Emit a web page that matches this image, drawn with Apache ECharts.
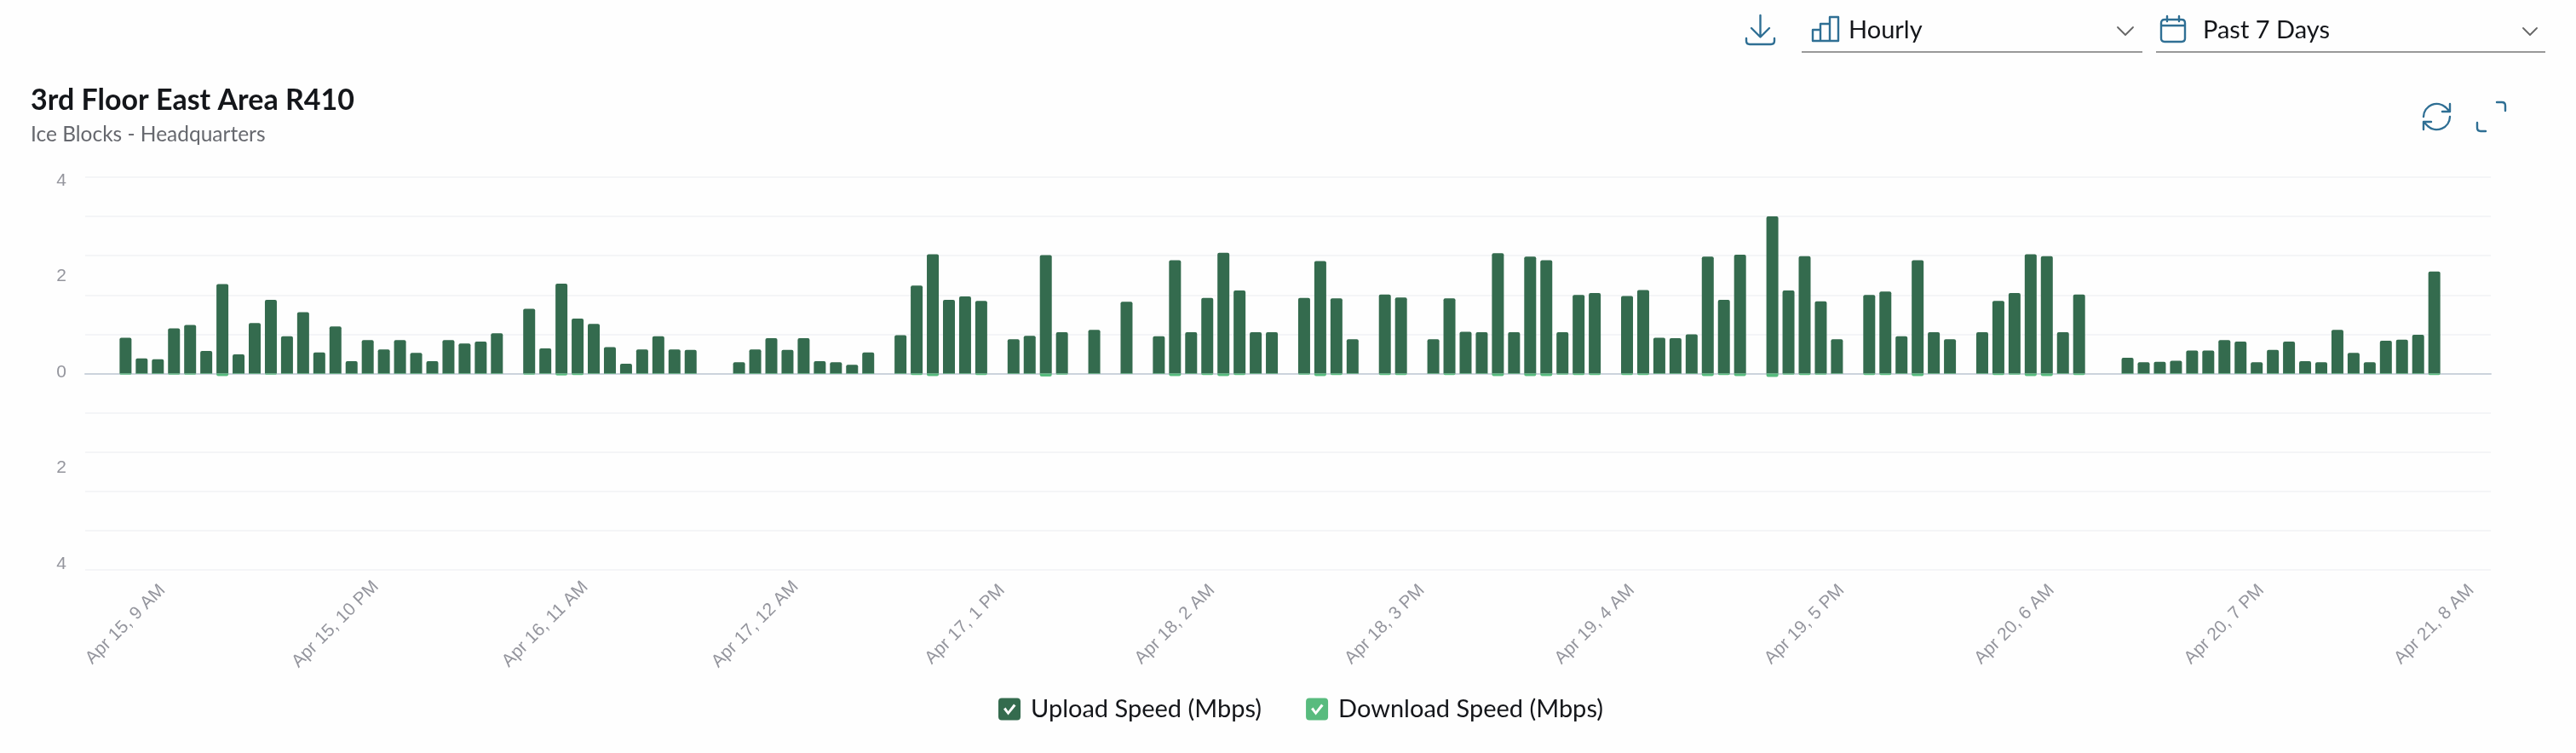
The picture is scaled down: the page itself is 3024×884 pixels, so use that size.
<!DOCTYPE html>
<html>
<head>
<meta charset="utf-8">
<title>3rd Floor East Area R410</title>
<script src="https://cdn.jsdelivr.net/npm/echarts@6/dist/echarts.min.js"></script>
<style>
html,body{margin:0;padding:0;background:#fefefe;width:3024px;height:884px;overflow:hidden}
#chart{position:absolute;left:0;top:0;width:3024px;height:884px}
.ctl{position:absolute;font-family:Lato,"Noto Sans",sans-serif;font-size:29px;line-height:34px;color:#14161a}
.rule{position:absolute;height:2px;background:#999;top:60px}
svg{position:absolute;overflow:visible;fill:none;stroke:#2f6f94;stroke-width:2.4;stroke-linecap:round;stroke-linejoin:round}
svg.chev{stroke:#666;stroke-width:1.8}
</style>
</head>
<body>
<div id="chart"></div>
<svg style="left:2049px;top:17px" width="35" height="36" viewBox="0 0 35 36"><path d="M17.5 1V26M7 16L17.5 26.5L28 16M1 28V31Q1 35 5 35H30Q34 35 34 31V28"/></svg>
<svg style="left:2127px;top:19px" width="32" height="30" viewBox="0 0 32 30"><path d="M1 29V16H10V29ZM10 29V9H21V29ZM21 29V1H31V29ZM1 29H31"/></svg>
<div class="ctl" style="left:2170px;top:17px">Hourly</div>
<svg class="chev" style="left:2485px;top:31px" width="20" height="11" viewBox="0 0 20 11"><path d="M1 1L10 10L19 1"/></svg>
<div class="rule" style="left:2115px;width:400px"></div>
<svg style="left:2536px;top:18px" width="30" height="32" viewBox="0 0 30 32"><path d="M5 5H25Q29 5 29 9V27Q29 31 25 31H5Q1 31 1 27V9Q1 5 5 5ZM1 12H29M8 1V7M22 1V7"/></svg>
<div class="ctl" style="left:2586px;top:17px">Past 7 Days</div>
<svg class="chev" style="left:2961px;top:32px" width="18" height="10" viewBox="0 0 18 10"><path d="M1 1L9 9L17 1"/></svg>
<div class="rule" style="left:2531px;width:457px"></div>
<svg style="left:2843px;top:119px" width="35" height="36" viewBox="0 0 35 36"><path d="M2 18A15.5 15.5 0 0 1 28 7L33 12M33 18A15.5 15.5 0 0 1 7 29L2 24M33 3V12H24M2 33V24H11" /></svg>
<svg style="left:2907px;top:119px" width="35" height="36" viewBox="0 0 35 36"><path d="M24 1H30Q34 1 34 5V11M1 25V31Q1 35 5 35H11"/></svg>
<script>
const uploadSpeed = [
 .73,.31,.29,.92,.99,.46,1.82,.39,1.03,1.50,.76,1.25,.43,.96,.25,.68,.49,.68,.42,.25,.68,.61,.65,.82,
 null,1.32,.51,1.83,1.12,1.01,.54,.20,.49,.76,.49,.48,
 null,null,.23,.49,.72,.48,.72,.25,.23,.18,.43,
 null,.78,1.79,2.43,1.50,1.57,1.48,
 null,.70,.77,2.41,.84,
 null,.89,
 null,1.46,
 null,.76,2.31,.84,1.54,2.46,1.69,.84,.84,
 null,1.54,2.29,1.53,.70,
 null,1.61,1.55,
 null,.70,1.53,.85,.84,2.45,.84,2.38,2.31,.84,1.60,1.64,
 null,1.58,1.70,.73,.72,.80,2.38,1.50,2.42,
 null,3.20,1.69,2.39,1.47,.70,
 null,1.60,1.67,.76,2.31,.84,.70,
 null,.84,1.48,1.64,2.43,2.39,.84,1.61,
 null,null,.32,.23,.24,.26,.47,.47,.68,.65,.23,.48,.65,.25,.23,.89,.42,.23,.67,.69,.79,2.08
];
const downloadSpeed = [
 .02,.01,.01,.02,.02,.01,.05,.01,.01,.02,.01,.01,.01,.01,.01,.01,.01,.01,.01,.01,.01,.01,.01,.01,
 null,.02,.01,.04,.03,.01,.01,.01,.01,.01,.01,.01,
 null,null,.01,.01,.01,.01,.01,.01,.01,.01,.01,
 null,.01,.03,.05,.01,.01,.03,
 null,.01,.01,.06,.02,
 null,.01,
 null,.01,
 null,.01,.05,.01,.03,.05,.03,.01,.01,
 null,.02,.05,.03,.01,
 null,.03,.03,
 null,.01,.03,.01,.01,.05,.01,.05,.05,.02,.03,.03,
 null,.03,.03,.01,.01,.01,.05,.03,.05,
 null,.07,.02,.03,.02,.01,
 null,.03,.03,.01,.05,.01,.01,
 null,.01,.03,.02,.05,.05,.01,.03,
 null,null,.01,.01,.01,.01,.01,.01,.01,.01,.01,.01,.01,.01,.01,.01,.01,.01,.01,.01,.01,.03
];
const monthName = 'Apr';
const firstDay = 15, firstHour = 9, labelEvery = 13;
const leadingBlanks = 2, trailingBlanks = 3;
const yLabelValues = [-4,-2,0,2,4];
function hourLabel(i){
  const total = firstHour + i;
  const day = firstDay + Math.floor(total/24);
  const h = total % 24;
  const h12 = h % 12 === 0 ? 12 : h % 12;
  return monthName + ' ' + day + ', ' + h12 + ' ' + (h < 12 ? 'AM' : 'PM');
}
const categories = [
  ...Array(leadingBlanks).fill(''),
  ...uploadSpeed.map((_, i) => hourLabel(i)),
  ...Array(trailingBlanks).fill('')
];
const pad = a => [...Array(leadingBlanks).fill(null), ...a, ...Array(trailingBlanks).fill(null)];
const checkIcon = 'path://M4 0H22A4 4 0 0 1 26 4V22A4 4 0 0 1 22 26H4A4 4 0 0 1 0 22V4A4 4 0 0 1 4 0ZM11.5 20L20.5 9L18 7L11.5 15.5L8.5 11L6 13Z';
const chart = echarts.init(document.getElementById('chart'), null, {renderer:'canvas'});
chart.setOption({
  animation:false,
  backgroundColor:'transparent',
  title:{left:31,top:96,text:'3rd Floor East Area R410',subtext:'Ice Blocks - Headquarters',itemGap:11,
    textStyle:{fontFamily:'Lato',fontWeight:700,fontSize:34,color:'#14161a'},
    subtextStyle:{fontFamily:'Lato',fontSize:24.5,color:'#66686e'}},
  legend:{left:1167,top:813,itemWidth:26,itemHeight:26,itemGap:52,selectedMode:false,
    textStyle:{fontFamily:'Lato',fontSize:29,color:'#14161a',padding:[0,0,0,7]},
    data:[{name:'Upload Speed (Mbps)',icon:checkIcon},{name:'Download Speed (Mbps)',icon:checkIcon}]},
  grid:[
    {left:100,width:2824,top:208,height:461},
    {left:100,width:2824,top:212,height:450}
  ],
  xAxis:[
    {type:'category',gridIndex:0,data:categories,position:'bottom',
      axisLine:{show:false,onZero:false},axisTick:{show:false},
      axisLabel:{rotate:45,margin:64,align:'center',verticalAlign:'middle',
        fontFamily:'Liberation Sans',fontSize:21,color:'#94959d',
        interval:(i)=>i>=leadingBlanks && (i-leadingBlanks)%labelEvery===0 && i<categories.length-trailingBlanks}},
    {type:'category',gridIndex:0,data:categories,
      axisLine:{show:true,onZero:true,lineStyle:{color:'#ccd3dc',width:2}},axisTick:{show:false},axisLabel:{show:false}},
    {type:'value',gridIndex:1,show:false,min:0,max:1}
  ],
  yAxis:[
    {type:'value',gridIndex:0,min:-4,max:4,interval:0.8,
      axisLine:{show:false},axisTick:{show:false},axisLabel:{show:false},
      splitLine:{show:true,lineStyle:{color:'#f4f5f7',width:2}}},
    {type:'value',gridIndex:1,min:yLabelValues[0],max:yLabelValues[yLabelValues.length-1],interval:2,
      axisLine:{show:false},axisTick:{show:false},splitLine:{show:false},
      axisLabel:{margin:22,fontFamily:'Liberation Sans',fontSize:21,color:'#94959d',formatter:v=>String(Math.abs(v))}}
  ],
  series:[
    {name:'Upload Speed (Mbps)',type:'bar',xAxisIndex:0,yAxisIndex:0,stack:'speed',barWidth:14,
      data:pad(uploadSpeed),itemStyle:{color:'#346b4e',borderRadius:[2,2,0,0]}},
    {name:'Download Speed (Mbps)',type:'bar',xAxisIndex:0,yAxisIndex:0,stack:'speed',barWidth:14,
      data:pad(downloadSpeed).map(v=>v===null?null:-v),itemStyle:{color:'#58bb7e',borderRadius:[0,0,2,2]}}
  ]
});
</script>
</body>
</html>
